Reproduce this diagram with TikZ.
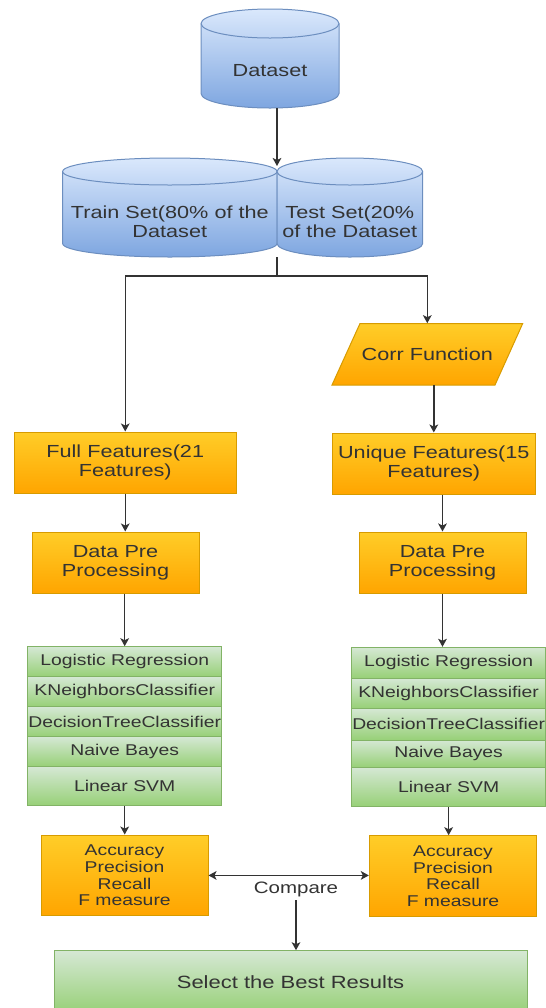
\documentclass[tikz,border=0pt]{standalone}
\usepackage{fontspec}
\setmainfont{Liberation Sans}[FakeStretch=1.24]
\usetikzlibrary{arrows.meta}
\definecolor{bluetop}{HTML}{DAE8FC}
\definecolor{bluebot}{HTML}{7EA6E0}
\definecolor{bluedraw}{HTML}{6C8EBF}
\definecolor{ortop}{HTML}{FFCD28}
\definecolor{orbot}{HTML}{FFA500}
\definecolor{ordraw}{HTML}{D79B00}
\definecolor{grtop}{HTML}{D5E8D4}
\definecolor{grbot}{HTML}{97D077}
\definecolor{grdraw}{HTML}{82B366}
\definecolor{txt}{HTML}{333333}
\definecolor{ln}{HTML}{333333}
\newcommand\drawcyl[5]{%
 \pgfmathsetmacro\cylcx{(#1+#2)/2}\pgfmathsetmacro\cylrx{(#2-#1)/2}%
 \pgfmathsetmacro\cylkx{0.5523*\cylrx}\pgfmathsetmacro\cylky{0.5523*#5}%
 \pgfmathsetmacro\cylyt{#3+#5}\pgfmathsetmacro\cylyb{#4-#5}%
 \path[cylfill] (#1,\cylyt) -- (#1,\cylyb)
   .. controls (#1,\cylyb+\cylky) and (\cylcx-\cylkx,\cylyb+#5) .. (\cylcx,\cylyb+#5)
   .. controls (\cylcx+\cylkx,\cylyb+#5) and (#2,\cylyb+\cylky) .. (#2,\cylyb)
   -- (#2,\cylyt)
   .. controls (#2,\cylyt-\cylky) and (\cylcx+\cylkx,\cylyt-#5) .. (\cylcx,\cylyt-#5)
   .. controls (\cylcx-\cylkx,\cylyt-#5) and (#1,\cylyt-\cylky) .. (#1,\cylyt) -- cycle;
 \draw[bluedraw,line width=0.75pt] (#1,\cylyt)
   .. controls (#1,\cylyt+\cylky) and (\cylcx-\cylkx,\cylyt+#5) .. (\cylcx,\cylyt+#5)
   .. controls (\cylcx+\cylkx,\cylyt+#5) and (#2,\cylyt+\cylky) .. (#2,\cylyt);
}
\begin{document}
\begin{tikzpicture}[x=0.75pt,y=-0.75pt,
 sz/.style 2 args={minimum width=#1*0.75pt, minimum height=#2*0.75pt},
 base/.style={inner sep=0pt, align=center, text=txt},
 big/.style={font=\fontsize{13.1pt}{14.25pt}\selectfont},
 small/.style={font=\fontsize{11.7pt}{12.5pt}\selectfont},
 orbox/.style={base, draw=ordraw, line width=0.75pt, top color=ortop, bottom color=orbot},
 grbox/.style={base, draw=grdraw, line width=0.75pt, top color=grtop, bottom color=grbot},
 cylfill/.style={draw=bluedraw, line width=0.75pt, top color=bluetop, bottom color=bluebot},
 conn/.style={draw=ln, line width=1.1pt, -{Stealth[length=6pt,width=6.5pt,inset=1.5pt]}},
 conn2/.style={draw=ln, line width=1.1pt, {Stealth[length=6pt,width=6.5pt,inset=1.5pt]}-{Stealth[length=6pt,width=6.5pt,inset=1.5pt]}},
 plain/.style={draw=ln, line width=1.1pt},
 ]
\useasboundingbox (0,0) rectangle (546,1008);

% cylinders
\drawcyl{201}{339}{9}{108}{14.5}
\drawcyl{62.6}{277}{158}{257}{13.5}
\drawcyl{277}{422.7}{158}{257}{13.5}
\node[inner sep=0pt, sz={138}{99}] (ds) at (270,58.5) {};
\node[base,big] (dsT) at (270,71) {Dataset};
\node[inner sep=0pt, sz={214.4}{99}] (trs) at (169.8,207.5) {};
\node[base,big] (trsT) at (169.8,221.5) {Train Set(80\% of the\\Dataset};
\node[inner sep=0pt, sz={145.7}{99}] (tes) at (349.85,207.5) {};
\node[base,big] (tesT) at (349.85,221.5) {Test Set(20\%\\of the Dataset};
\coordinate (splitT) at (277,166);
\coordinate (splitB) at (277,257);
\coordinate (jn) at (277,276);

% corr function
\path[draw=ordraw, line width=0.75pt, top color=ortop, bottom color=orbot]
  (332,385) -- (360,323.5) -- (522.7,323.5) -- (495,385) -- cycle;
\node[base,big,sz={135}{61.5}] (corr) at (427.3,354.2) {Corr Function};

% boxes
\node[orbox,big,sz={222.5}{61}] (ff) at (125.25,462.5) {Full Features(21\\Features)};
\node[orbox,big,sz={203.6}{61}] (uf) at (433.8,463.5) {Unique Features(15\\Features)};
\node[orbox,big,sz={167}{61}] (dpL) at (115.5,562.5) {Data Pre\\Processing};
\node[orbox,big,sz={167}{61}] (dpR) at (442.5,562.5) {Data Pre\\Processing};

% left stack
\node[grbox,small,sz={193.8}{30}] (lr1) at (124.7,661.7) {Logistic Regression};
\node[grbox,small,sz={193.8}{30}] (lr2) at (124.7,691.7) {KNeighborsClassifier};
\node[grbox,small,sz={193.8}{30}] (lr3) at (124.7,721.7) {DecisionTreeClassifier};
\node[grbox,small,sz={193.8}{30}] (lr4) at (124.7,751.7) {Naive Bayes};
\node[grbox,small,sz={193.8}{39}] (lr5) at (124.7,786.2) {Linear SVM};
% right stack
\node[grbox,small,sz={193.9}{31}] (rr1) at (448.65,662.8) {Logistic Regression};
\node[grbox,small,sz={193.9}{30}] (rr2) at (448.65,693.3) {KNeighborsClassifier};
\node[grbox,small,sz={193.9}{31.7}] (rr3) at (448.65,724.15) {DecisionTreeClassifier};
\node[grbox,small,sz={193.9}{27.3}] (rr4) at (448.65,753.65) {Naive Bayes};
\node[grbox,small,sz={193.9}{39.4}] (rr5) at (448.65,787) {Linear SVM};

% metrics
\node[orbox,small,sz={167}{80.7}] (accL) at (124.5,875.4) {Accuracy\\Precision\\Recall\\F measure};
\node[orbox,small,sz={167.3}{81}] (accR) at (453,876.2) {Accuracy\\Precision\\Recall\\F measure};
\node[base,font=\fontsize{12.4pt}{13pt}\selectfont,inner sep=2.5pt] (cmp) at (296,889) {Compare};
\node[grbox,font=\fontsize{13.3pt}{14pt}\selectfont,sz={473}{62}] (sel) at (290.5,981.7) {Select the Best Results};

% connectors
\draw[conn] (splitT |- ds.south) -- (splitT);
\draw[plain] (splitB) -- (jn);
\draw[conn] (jn) -| (ff.north);
\draw[conn] (jn) -| (corr.north);
\draw[conn] (uf.north |- corr.south) -- (uf.north);
\draw[conn] (ff.south) -- (ff.south |- dpL.north);
\draw[conn] (dpR.north |- uf.south) -- (dpR.north);
\draw[conn] (lr1.north |- dpL.south) -- (lr1.north);
\draw[conn] (dpR.south) -- (dpR.south |- rr1.north);
\draw[conn] (lr5.south) -- (lr5.south |- accL.north);
\draw[conn] (rr5.south) -- (rr5.south |- accR.north);
\draw[conn2] (accL.east) -- (accL.east -| accR.west);
\draw[conn] (cmp.south) -- (cmp.south |- sel.north);
\end{tikzpicture}
\end{document}
